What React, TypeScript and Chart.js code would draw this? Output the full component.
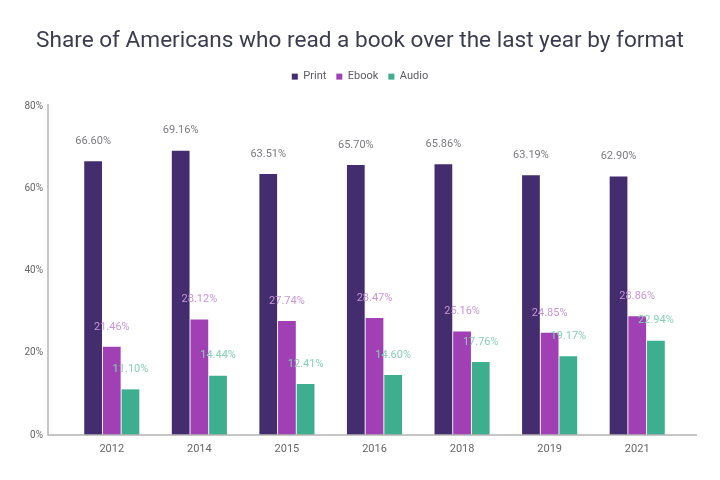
import { useEffect, useRef } from "react";
import Chart from "chart.js/auto";

const years = ["2012", "2014", "2015", "2016", "2018", "2019", "2021"];
const printShare = [66.6, 69.16, 63.51, 65.7, 65.86, 63.19, 62.9];
const ebookShare = [21.46, 28.12, 27.74, 28.47, 25.16, 24.85, 28.86];
const audioShare = [11.1, 14.44, 12.41, 14.6, 17.76, 19.17, 22.94];
const yTicks = [0, 20, 40, 60, 80];

const labelColors = ["#7a7a80", "#c896d8", "#86cfb4"];

// draws the value labels above the bars and the two axis lines
const barLabels = {
  id: "barLabels",
  beforeInit(chart: any) {
    // leave a little more room under the legend
    const legend = chart.legend;
    if (legend && !legend._padded) {
      const fit = legend.fit;
      legend.fit = function () {
        fit.call(this);
        this.height += 14;
      };
      legend._padded = true;
    }
  },
  afterDatasetsDraw(chart: Chart) {
    const { ctx, chartArea } = chart;
    ctx.save();
    ctx.strokeStyle = "#b4b4b4";
    ctx.lineWidth = 1.5;
    ctx.beginPath();
    ctx.moveTo(48, chartArea.top - 2);
    ctx.lineTo(48, chartArea.bottom);
    ctx.lineTo(697, chartArea.bottom);
    ctx.stroke();

    ctx.font = "11px Roboto";
    ctx.textAlign = "center";
    ctx.textBaseline = "middle";
    chart.data.datasets.forEach((ds, i) => {
      const meta = chart.getDatasetMeta(i);
      ctx.fillStyle = labelColors[i];
      meta.data.forEach((bar: any, j: number) => {
        const v = ds.data[j] as number;
        ctx.fillText(v.toFixed(2) + "%", bar.x, bar.y - 20);
      });
    });
    ctx.restore();
  },
};

export default function App() {
  const canvasRef = useRef<HTMLCanvasElement | null>(null);

  useEffect(() => {
    document.body.style.margin = "0";
    const canvas = canvasRef.current;
    if (!canvas) return;

    const chart = new Chart(canvas, {
      type: "bar",
      data: {
        labels: years,
        datasets: [
          { label: "Print", data: printShare, backgroundColor: "#432d6e" },
          { label: "Ebook", data: ebookShare, backgroundColor: "#a040b4" },
          { label: "Audio", data: audioShare, backgroundColor: "#3daf8e" },
        ],
      },
      options: {
        responsive: false,
        animation: false,
        layout: { padding: 0 },
        datasets: {
          bar: { categoryPercentage: 0.64, barPercentage: 0.95 },
        },
        plugins: {
          title: {
            display: true,
            text: "Share of Americans who read a book over the last year by format",
            color: "#3c3c50",
            font: { family: "Roboto", size: 22.6, weight: "normal" },
            padding: { top: 28, bottom: 6 },
          },
          legend: {
            labels: {
              boxWidth: 6,
              boxHeight: 6,
              color: "#5a5a60",
              font: { family: "Roboto", size: 11 },
              padding: 10,
            },
          },
          tooltip: { enabled: false },
        },
        scales: {
          x: {
            grid: { display: false, drawTicks: false },
            border: { display: false },
            ticks: {
              color: "#666",
              font: { family: "Roboto", size: 11 },
              padding: 8,
            },
            afterFit: (s: any) => {
              s.height = 45;
            },
          },
          y: {
            min: 0,
            max: 80,
            grid: { display: false, drawTicks: false },
            border: { display: false },
            afterBuildTicks: (s: any) => {
              s.ticks = yTicks.map((v) => ({ value: v }));
            },
            ticks: {
              color: "#666",
              font: { family: "Roboto", size: 10 },
              padding: 25,
              callback: (v: any) => v + "%",
            },
            afterFit: (s: any) => {
              s.width = 68;
            },
          },
          // empty axis that keeps the plot clear of the right edge
          yRight: {
            position: "right",
            min: 0,
            max: 80,
            grid: { display: false, drawTicks: false },
            border: { display: false },
            ticks: { display: false },
            afterFit: (s: any) => {
              s.width = 39;
            },
          },
        },
      },
      plugins: [barLabels],
    });

    return () => chart.destroy();
  }, []);

  return (
    <div style={{ width: 720, height: 480, background: "#fff" }}>
      <canvas ref={canvasRef} width={720} height={480} />
    </div>
  );
}
